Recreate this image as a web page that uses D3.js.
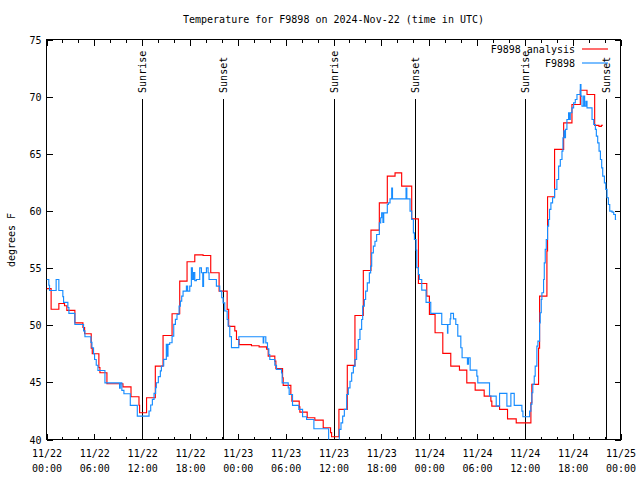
<!DOCTYPE html>
<html><head><meta charset="utf-8">
<script src="https://cdn.jsdelivr.net/npm/d3@7/dist/d3.min.js"></script>
<style>
body{margin:0;background:#fff}
svg text{font-family:"DejaVu Sans Mono",monospace;font-size:10px;fill:#000}
</style>
</head><body>
<svg id="chart" width="640" height="480"></svg>
<script>
// ---------- data ----------
const chartTitle = "Temperature for F9898 on 2024-Nov-22 (time in UTC)";
const yLabel = "degrees F";
const startTime = "2024-11-22T00:00:00Z";
const endTime = "2024-11-25T00:00:00Z";
const seriesNames = ["F9898 analysis", "F9898"];

// hours since start, temperature (F)
const analysisHours = [0,0.58,1.55,2.26,2.55,3.56,4.57,4.78,5.61,5.74,6.57,6.70,7.58,9.59,10.6,11.6,11.68,12.55,13.65,14.62,15.75,16.71,17.63,18.6,19.64,20.6,21.65,22.66,22.85,23.62,23.83,24.16,25.71,26.67,27.6,27.81,28.64,28.77,29.61,29.69,30.65,30.78,31.7,31.78,32.7,33.66,34.71,35.63,35.76,36.68,37.73,38.69,39.74,40.7,41.75,42.75,43.72,44.55,45.81,46.65,47.7,48.03,48.74,49.71,50.71,51.8,52.72,53.77,54.9,55.74,55.86,56.83,57.83,58.92,60.76,60.88,61.72,61.85,62.77,62.85,63.73,64.87,65.91,66.96,67.8,68.76,69.3,69.6,69.81];
const analysisTemps = [53.2,51.4,51.9,51.7,51.3,50.2,49.8,49.25,48.0,47.5,46.3,45.84,44.88,44.6,43.74,43.0,42.34,43.65,46.42,49.1,51.0,53.86,55.55,56.16,56.1,54.59,52.98,51.38,49.9,49.5,48.75,48.3,48.2,48.1,47.9,47.3,46.86,46.2,45.4,44.73,43.94,43.36,42.86,42.4,41.9,41.7,41.03,40.6,40.24,42.63,46.48,50.85,54.79,58.32,60.71,63.04,63.33,62.17,59.31,53.65,52.54,50.94,49.34,47.53,46.42,46.07,44.96,44.32,43.8,43.36,42.92,42.63,41.81,41.46,43.2,44.82,48.0,52.54,56.5,61.24,65.38,67.71,69.31,70.56,70.19,67.48,67.4,67.5,67.5];

const obsHours = [0,0.29,0.38,1.21,1.55,2.05,2.14,2.68,2.81,3.56,4.65,4.82,5.57,5.70,5.9,6.03,6.24,6.45,7.33,9.17,9.25,9.45,9.71,10.51,11.39,12.86,13.07,13.28,13.49,13.69,13.78,14.03,14.28,14.41,14.7,15.03,15.1,15.24,15.45,15.75,15.96,16.17,16.37,16.63,16.79,16.96,17.13,17.55,17.7,17.97,18.17,18.3,18.45,18.6,18.8,19.22,19.43,19.6,19.7,20.06,20.27,20.39,21.31,21.73,21.98,22.15,22.36,22.66,22.78,22.99,23.2,24.12,27.18,27.25,27.51,27.72,27.89,28.01,28.64,28.85,29.48,29.56,30.32,30.44,30.86,31.65,32.12,32.62,33.54,35.39,36.73,36.94,37.15,37.36,37.65,37.86,38.07,38.28,38.49,38.69,38.9,39.11,39.32,39.53,39.66,39.87,40.03,40.24,40.5,40.66,40.79,41.0,41.2,41.41,41.75,41.92,42.04,42.2,42.3,42.75,42.88,43.09,43.3,43.4,45.1,45.2,45.6,45.81,46.02,46.15,46.36,46.44,46.65,46.78,47.07,47.61,48.2,49.58,50.3,50.35,50.63,50.71,51.05,51.34,51.59,51.97,52.13,52.8,52.93,53.14,53.98,54.1,55.57,56.41,56.83,57.75,58.25,58.67,59.63,59.76,60.6,60.76,60.88,61.0,61.18,61.3,61.51,61.64,61.85,61.93,62.06,62.14,62.35,62.44,62.56,62.69,62.85,62.98,63.1,63.27,63.48,63.73,64.02,64.24,64.45,64.66,64.78,64.9,65.0,65.1,65.28,65.49,65.6,65.7,65.91,66.12,66.33,66.54,66.96,67.04,67.17,67.38,67.5,67.67,67.8,68.43,68.64,68.85,68.97,69.14,69.31,69.48,69.64,69.77,69.98,70.15,70.31,70.48,70.65,70.94,71.15,71.36,71.45];
const obsTemps = [54.0,53.5,53.04,54.0,53.04,52.5,52.0,51.55,51.03,50.06,49.5,48.99,48.5,48.03,47.5,47.0,46.5,46.04,44.96,44.5,44.96,44.3,44.0,42.98,42.05,42.49,43.02,43.51,44.04,44.54,44.97,45.5,46.0,46.43,47.01,48.33,47.3,48.33,48.47,49.05,50.07,50.51,50.95,51.67,52.11,52.55,52.98,53.42,52.98,53.42,55.02,54.0,54.6,53.9,54.0,55.02,54.59,53.4,54.6,55.02,54.59,54.0,53.42,52.98,52.4,51.96,51.24,50.5,49.93,49.0,48.04,48.99,48.46,48.99,48.46,47.94,47.44,47.0,46.5,46.13,45.83,44.96,44.52,43.94,42.98,42.63,41.99,41.75,40.94,39.6,40.88,41.46,42.04,42.63,43.94,44.52,45.1,45.83,46.4,47.0,47.88,48.75,49.63,50.5,51.67,52.25,52.98,53.71,54.58,55.17,56.33,56.92,57.35,57.94,58.96,59.4,59.83,59.0,59.83,60.56,60.71,61.06,62.0,61.06,62.0,61.06,59.98,59.25,58.08,57.5,56.57,55.03,54.44,54.0,53.07,52.0,51.03,50.06,49.3,50.06,50.55,51.03,50.55,50.06,49.04,48.03,47.15,46.6,47.15,46.07,45.55,44.96,43.8,42.92,44.03,42.92,44.03,42.98,42.48,41.99,42.48,43.07,44.09,44.82,45.55,46.42,48.17,48.61,50.21,51.09,52.25,52.84,54.0,55.46,56.63,57.5,58.67,59.25,60.13,60.71,61.15,61.88,62.75,63.92,64.5,65.23,66.4,67.0,66.4,67.13,68.0,68.59,68.0,68.59,69.02,69.46,69.75,70.19,71.06,70.04,69.17,70.04,69.17,69.6,69.02,68.0,67.56,67.13,66.54,65.96,65.23,64.5,63.77,63.04,62.46,61.88,61.15,60.56,59.98,59.9,59.69,59.25,59.25];

const sunriseTimes = ["2024-11-22T12:01:00Z","2024-11-23T12:03:00Z","2024-11-24T12:05:00Z"];
const sunsetTimes  = ["2024-11-22T22:11:00Z","2024-11-23T22:14:00Z","2024-11-24T22:12:00Z"];
const sunLineTop = 69.8;

const yTickValues = [40,45,50,55,60,65,70,75];

// ---------- layout ----------
const L = 46.5, R = 620.5, T = 39.5, B = 439.5;
const redColor = "#ff0000", blueColor = "#168cff";

const svg = d3.select("#chart");
const t0 = new Date(startTime);
const toDate = h => new Date(t0.getTime() + h * 3600e3);

const x = d3.scaleUtc().domain([t0, new Date(endTime)]).range([L, R]);
const y = d3.scaleLinear().domain([40, 75]).range([B, T]);

const fmtDay = d3.utcFormat("%m/%d");
const fmtTime = d3.utcFormat("%H:%M");

svg.append("defs").append("clipPath").attr("id", "plotclip")
  .append("rect").attr("x", L).attr("y", T).attr("width", R - L).attr("height", B - T);

// minor x ticks (every 2h), bottom and top
svg.append("g").attr("transform", `translate(0,${B})`)
  .call(d3.axisBottom(x).ticks(d3.utcHour.every(2)).tickSize(-3).tickFormat(""))
  .call(g => g.select(".domain").remove());
svg.append("g").attr("transform", `translate(0,${T})`)
  .call(d3.axisTop(x).ticks(d3.utcHour.every(2)).tickSize(-3).tickFormat(""))
  .call(g => g.select(".domain").remove());

// major x ticks
const gx = svg.append("g").attr("transform", `translate(0,${B})`)
  .call(d3.axisBottom(x).ticks(d3.utcHour.every(6)).tickSize(-6).tickFormat(""));
gx.select(".domain").remove();
gx.selectAll(".tick").each(function(d) {
  const t = d3.select(this).append("text").attr("text-anchor", "middle").attr("fill", "#000");
  t.append("tspan").attr("x", 0).attr("y", 17.5).text(fmtDay(d));
  t.append("tspan").attr("x", 0).attr("y", 32.5).text(fmtTime(d));
});
svg.append("g").attr("transform", `translate(0,${T})`)
  .call(d3.axisTop(x).ticks(d3.utcHour.every(6)).tickSize(-6).tickFormat(""))
  .call(g => g.select(".domain").remove());

// y ticks
const gy = svg.append("g").attr("transform", `translate(${L},0)`)
  .call(d3.axisLeft(y).tickValues(yTickValues).tickSize(-6).tickPadding(5).tickFormat(d3.format("d")));
gy.select(".domain").remove();
gy.selectAll("text").attr("dy", "0.35em");
svg.append("g").attr("transform", `translate(${R},0)`)
  .call(d3.axisRight(y).tickValues(yTickValues).tickSize(-6).tickFormat(""))
  .call(g => g.select(".domain").remove());

svg.selectAll(".tick line").attr("stroke", "#000").attr("shape-rendering", "crispEdges");
svg.selectAll("g[font-family]").attr("font-family", null).attr("font-size", null);

// border
svg.append("rect").attr("x", L).attr("y", T).attr("width", R - L).attr("height", B - T)
  .attr("fill", "none").attr("stroke", "#000").attr("stroke-width", 1).attr("shape-rendering", "crispEdges");

// sunrise / sunset markers
const markers = sunriseTimes.map(s => ({t: new Date(s), label: "Sunrise"}))
  .concat(sunsetTimes.map(s => ({t: new Date(s), label: "Sunset"})));
markers.forEach(m => {
  const xx = Math.round(x(m.t)) + 0.5;
  svg.append("line").attr("x1", xx).attr("x2", xx).attr("y1", y(40)).attr("y2", y(sunLineTop))
    .attr("stroke", "#000").attr("stroke-width", 1).attr("shape-rendering", "crispEdges");
  svg.append("text").attr("transform", `translate(${xx + 3.8},${y(sunLineTop) - 6}) rotate(-90)`)
    .attr("text-anchor", "start").text(m.label);
});

// data lines
const line = d3.line().curve(d3.curveStepAfter).x(d => x(d[0])).y(d => y(d[1]));
const analysisData = analysisHours.map((h, i) => [toDate(h), analysisTemps[i]]);
const obsData = obsHours.map((h, i) => [toDate(h), obsTemps[i]]);
const plot = svg.append("g").attr("clip-path", "url(#plotclip)");
plot.append("path").datum(analysisData).attr("d", line)
  .attr("fill", "none").attr("stroke", redColor).attr("stroke-width", 1.15);
plot.append("path").datum(obsData).attr("d", line)
  .attr("fill", "none").attr("stroke", blueColor).attr("stroke-width", 1.15);

// legend
const legendRows = [{name: seriesNames[0], color: redColor, yy: 49}, {name: seriesNames[1], color: blueColor, yy: 63}];
legendRows.forEach(r => {
  svg.append("text").attr("x", 575).attr("y", r.yy + 3.5).attr("text-anchor", "end").text(r.name);
  svg.append("line").attr("x1", 582).attr("x2", 608).attr("y1", r.yy).attr("y2", r.yy)
    .attr("stroke", r.color).attr("stroke-width", 1.15);
});

// title & y label
svg.append("text").attr("x", (L + R) / 2).attr("y", 22.5).attr("text-anchor", "middle").text(chartTitle);
svg.append("text").attr("transform", `translate(14.5,240) rotate(-90)`).attr("text-anchor", "middle").text(yLabel);
</script>
</body></html>
